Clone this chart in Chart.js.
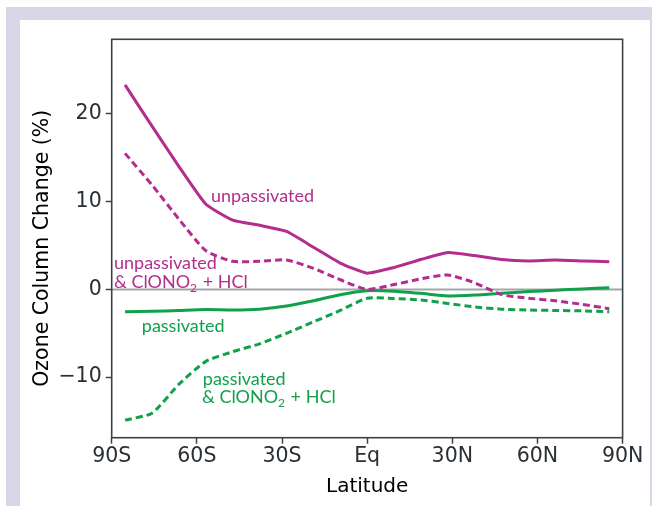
<!DOCTYPE html>
<html>
<head>
<meta charset="utf-8">
<script src="https://cdn.jsdelivr.net/npm/chart.js@4.4.1/dist/chart.umd.min.js"></script>
<style>
  html, body { margin: 0; padding: 0; background: #ffffff; }
  #frame { position: absolute; left: 6px; top: 7px; width: 646px; height: 499px; background: #dad6e7; }
  #panel { position: absolute; left: 20px; top: 20px; width: 630px; height: 486px; background: #ffffff; }
  #wrap { position: absolute; left: 0; top: 0; width: 652px; height: 506px; }
</style>
</head>
<body>
<div id="frame"></div>
<div id="panel"></div>
<div id="wrap"><canvas id="c" width="652" height="506"></canvas></div>
<script>
// ---- data ----
const latitudes = [-85.3, -75.8, -66.3, -56.8, -47.4, -37.9, -28.4, -18.9, -9.5, 0, 9.5, 18.9, 28.4, 37.9, 47.4, 56.8, 66.3, 75.8, 85.3];
const unpassivated       = [23.3, 18.6, 14.0, 9.7, 7.9, 7.3, 6.6, 4.8, 3.0, 1.85, 2.5, 3.4, 4.2, 3.85, 3.4, 3.25, 3.35, 3.25, 3.15];
const unpassivatedClono2 = [15.5, 11.9, 8.0, 4.4, 3.2, 3.2, 3.35, 2.4, 1.1, 0.0, 0.55, 1.2, 1.65, 0.75, -0.6, -1.0, -1.3, -1.7, -2.2];
const passivated         = [-2.55, -2.5, -2.4, -2.3, -2.35, -2.25, -1.9, -1.3, -0.6, -0.15, -0.2, -0.45, -0.75, -0.65, -0.45, -0.25, -0.1, 0.05, 0.2];
const passivatedClono2   = [-14.9, -14.1, -10.8, -8.2, -7.1, -6.2, -5.0, -3.7, -2.4, -1.0, -1.05, -1.2, -1.6, -2.0, -2.25, -2.35, -2.4, -2.45, -2.55];

const xTickValues = [-90, -60, -30, 0, 30, 60, 90];
const xTickLabels = ['90S', '60S', '30S', 'Eq', '30N', '60N', '90N'];
const yTickValues = [-10, 0, 10, 20];

const PURPLE = '#b42d8e';
const GREEN = '#10a14a';

// in-plot labels (anchored in data coordinates)
const labelLines = [
  { parts: [['unpassivated', false]], lat: -55.0, val: 10.0, color: PURPLE },
  { parts: [['unpassivated', false]], lat: -89.2, val: 2.3, color: PURPLE },
  { parts: [['& ClONO', false], ['2', true], [' + HCl', false]], lat: -89.2, val: 0.15, color: PURPLE },
  { parts: [['passivated', false]], lat: -79.4, val: -4.83, color: GREEN },
  { parts: [['passivated', false]], lat: -57.9, val: -10.9, color: GREEN },
  { parts: [['& ClONO', false], ['2', true], [' + HCl', false]], lat: -58.2, val: -13.0, color: GREEN }
];

function pts(vals) { return latitudes.map((x, i) => ({ x: x, y: vals[i] })); }

const zeroLine = {
  id: 'zeroLine',
  beforeDatasetsDraw(chart) {
    const { ctx, chartArea, scales } = chart;
    const y = scales.y.getPixelForValue(0);
    ctx.save();
    ctx.strokeStyle = '#a2a6aa';
    ctx.lineWidth = 2;
    ctx.beginPath();
    ctx.moveTo(chartArea.left, y);
    ctx.lineTo(chartArea.right, y);
    ctx.stroke();
    ctx.restore();
  }
};

const frameBox = {
  id: 'frameBox',
  afterDraw(chart) {
    const { ctx, chartArea } = chart;
    ctx.save();
    ctx.strokeStyle = '#3b4247';
    ctx.lineWidth = 1.6;
    ctx.strokeRect(chartArea.left, chartArea.top, chartArea.right - chartArea.left, chartArea.bottom - chartArea.top);
    ctx.restore();
  }
};

const inlineLabels = {
  id: 'inlineLabels',
  afterDatasetsDraw(chart) {
    const { ctx, scales } = chart;
    ctx.save();
    ctx.textBaseline = 'alphabetic';
    ctx.textAlign = 'left';
    labelLines.forEach(l => {
      let x = scales.x.getPixelForValue(l.lat);
      const y = scales.y.getPixelForValue(l.val);
      ctx.fillStyle = l.color;
      l.parts.forEach(([t, sub]) => {
        ctx.font = sub ? '12px Lato' : '18px Lato';
        ctx.fillText(t, x, sub ? y + 4 : y);
        x += ctx.measureText(t).width + (sub ? 1 : 0);
      });
    });
    ctx.restore();
  }
};

new Chart(document.getElementById('c'), {
  type: 'line',
  data: {
    datasets: [
      { label: 'unpassivated', data: pts(unpassivated), borderColor: PURPLE, borderWidth: 3, pointRadius: 0, tension: 0.15 },
      { label: 'unpassivated & ClONO2 + HCl', data: pts(unpassivatedClono2), borderColor: PURPLE, borderWidth: 3, borderDash: [7, 4], pointRadius: 0, tension: 0.2 },
      { label: 'passivated', data: pts(passivated), borderColor: GREEN, borderWidth: 3, pointRadius: 0, tension: 0.2 },
      { label: 'passivated & ClONO2 + HCl', data: pts(passivatedClono2), borderColor: GREEN, borderWidth: 3, borderDash: [7, 4], pointRadius: 0, tension: 0.2 }
    ]
  },
  options: {
    responsive: false,
    animation: false,
    events: [],
    layout: { padding: { left: 0, right: 29.4, top: 39.3, bottom: 0 } },
    plugins: { legend: { display: false }, tooltip: { enabled: false } },
    scales: {
      x: {
        type: 'linear',
        min: -90, max: 90,
        afterBuildTicks(s) { s.ticks = xTickValues.map(v => ({ value: v })); },
        afterFit(s) { s.height = 68.3; },
        grid: { drawOnChartArea: false, drawTicks: true, tickLength: 6, tickColor: '#3b4247', tickWidth: 1.5 },
        border: { display: false },
        ticks: {
          color: '#2a2f33',
          font: { family: 'DejaVu Sans', size: 20.5 },
          padding: 1,
          maxRotation: 0,
          autoSkip: false,
          callback(v) { const i = xTickValues.indexOf(v); return i >= 0 ? xTickLabels[i] : ''; }
        },
        title: { display: true, text: 'Latitude', color: '#000000', font: { family: 'DejaVu Sans', size: 20 }, padding: { top: 0, bottom: 7 } }
      },
      y: {
        min: -16.9, max: 28.5,
        afterBuildTicks(s) { s.ticks = yTickValues.map(v => ({ value: v })); },
        afterFit(s) { s.width = 111.7; },
        grid: { drawOnChartArea: false, drawTicks: true, tickLength: 6, tickColor: '#3b4247', tickWidth: 1.5 },
        border: { display: false },
        ticks: {
          color: '#2a2f33',
          font: { family: 'DejaVu Sans', size: 20.5 },
          padding: 4,
          callback(v) { return v < 0 ? '\u2212' + Math.abs(v) : String(v); }
        },
        title: { display: true, text: 'Ozone Column Change (%)\u00a0\u00a0\u00a0', color: '#000000', font: { family: 'DejaVu Sans', size: 20.5 }, padding: { top: 30.4, bottom: 0 } }
      }
    }
  },
  plugins: [zeroLine, inlineLabels, frameBox]
});
</script>
</body>
</html>
